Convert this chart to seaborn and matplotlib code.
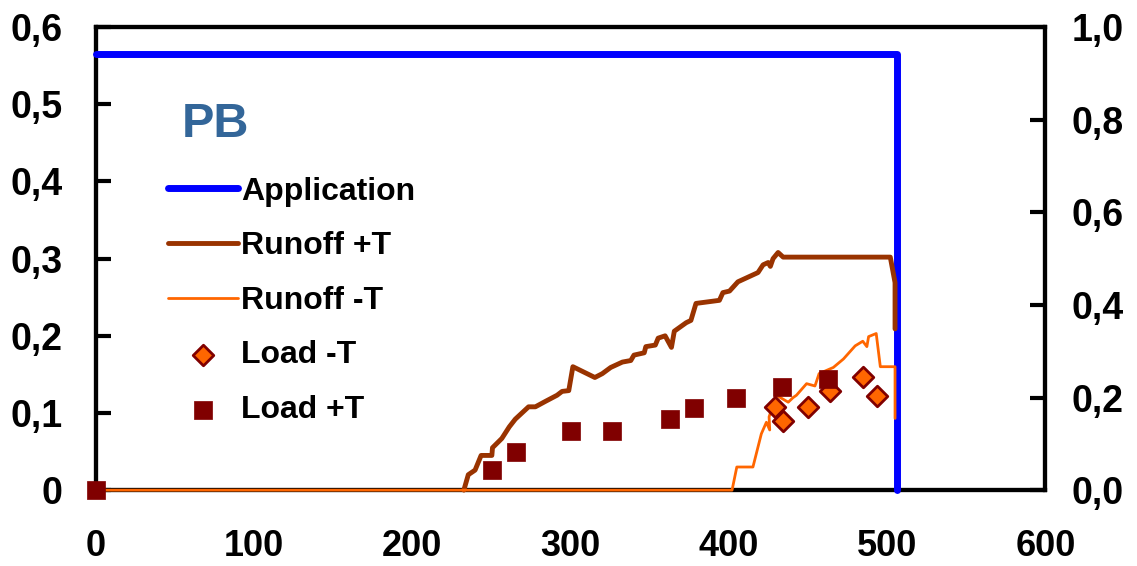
import numpy as np
import pandas as pd
import matplotlib
matplotlib.use("Agg")
import matplotlib.pyplot as plt
import seaborn as sns

# -------------------------------------------------------
# Dane
# -------------------------------------------------------
app_x = [0, 506, 506]
app_y = [0.565, 0.565, 0.0]

run_pT_x = [232.5, 235.3, 239.6, 243.4, 250.2, 250.6, 256.5, 261.2, 265.0, 273.4,
            277.7, 284.0, 291.4, 294.6, 298.8, 301.4, 315.3, 320.0, 325.3, 332.7,
            338.0, 340.0, 346.5, 347.5, 353.5, 355.3, 359.7, 363.7, 365.5, 373.0,
            376.0, 379.2, 394.0, 396.2, 400.4, 405.7, 418.4, 421.6, 424.8, 426.2,
            427.9, 431.1, 434.3, 502.0, 505.0, 505.0]
run_pT_y = [0, 0.020, 0.026, 0.045, 0.045, 0.055, 0.067, 0.082, 0.092, 0.108,
            0.108, 0.115, 0.123, 0.128, 0.129, 0.160, 0.146, 0.151, 0.159, 0.166,
            0.168, 0.175, 0.178, 0.186, 0.188, 0.197, 0.200, 0.185, 0.206, 0.217,
            0.220, 0.242, 0.246, 0.256, 0.258, 0.270, 0.282, 0.292, 0.295, 0.290,
            0.300, 0.308, 0.302, 0.302, 0.269, 0.209]

run_mT_x = [0, 402.0, 405.0, 415.2, 420.5, 423.7, 425.8, 425.4, 430.0, 437.5, 440.6,
            442.7, 449.1, 454.4, 457.0, 466.0, 472.4, 479.8, 484.6, 487.2, 488.3,
            493.1, 495.7, 505.0, 505.0]
run_mT_y = [0, 0, 0.030, 0.030, 0.073, 0.088, 0.078, 0.095, 0.123, 0.114, 0.120,
            0.123, 0.138, 0.135, 0.151, 0.159, 0.170, 0.187, 0.193, 0.186, 0.199,
            0.203, 0.160, 0.160, 0.093]

load_mT_x = [429.4, 434.3, 450.2, 463.9, 484.6, 493.5]
load_mT_y = [0.108, 0.090, 0.108, 0.128, 0.146, 0.122]

load_pT_x = [0, 250.2, 265.6, 300.5, 326.3, 362.7, 378.2, 404.2, 433.7, 462.9]
load_pT_y = [0, 0.026, 0.049, 0.077, 0.077, 0.092, 0.106, 0.120, 0.134, 0.144]

x_ticks = [0, 100, 200, 300, 400, 500, 600]
y_left_ticks = [0, 0.1, 0.2, 0.3, 0.4, 0.5, 0.6]
y_right_ticks = [0, 0.2, 0.4, 0.6, 0.8, 1.0]

# -------------------------------------------------------
# Wykres
# -------------------------------------------------------
sns.set_theme(style="white")
plt.rcParams['font.family'] = ['Liberation Sans', 'DejaVu Sans']
plt.rcParams['font.weight'] = 'bold'
plt.rcParams['text.color'] = 'black'
plt.rcParams['xtick.color'] = 'black'
plt.rcParams['ytick.color'] = 'black'
plt.rcParams['xtick.labelcolor'] = 'black'
plt.rcParams['ytick.labelcolor'] = 'black'

fig = plt.figure(figsize=(11.37, 5.66), dpi=100)
ax = fig.add_axes([0.0844, 0.134, 0.835, 0.818])
ax2 = ax.twinx()

sns.lineplot(x=app_x, y=app_y, ax=ax, sort=False, estimator=None, color='#0000FF',
             linewidth=5, label='Application', clip_on=False, zorder=3)
sns.lineplot(x=run_pT_x, y=run_pT_y, ax=ax, sort=False, estimator=None, color='#993300',
             linewidth=3.5, label='Runoff +T', clip_on=False, zorder=4)
sns.lineplot(x=run_mT_x, y=run_mT_y, ax=ax, sort=False, estimator=None, color='#FF6600',
             linewidth=2, label='Runoff -T', clip_on=False, zorder=4.5)
sns.scatterplot(x=load_mT_x, y=load_mT_y, ax=ax, marker='D', s=110, color='#FF6600',
                edgecolor='#800000', linewidth=2, label='Load -T', zorder=5, clip_on=False)
sns.scatterplot(x=load_pT_x, y=load_pT_y, ax=ax, marker='s', s=150, color='#800000',
                edgecolor='#800000', linewidth=0.5, label='Load +T', zorder=5, clip_on=False)

ax.set_xlim(0, 600)
ax.set_ylim(0, 0.6)
ax2.set_ylim(0, 1.0)

ax.set_xticks(x_ticks)
ax.set_xticklabels([str(v) for v in x_ticks])
ax.set_yticks(y_left_ticks)
ax.set_yticklabels(['0' if v == 0 else f'{v:.1f}'.replace('.', ',') for v in y_left_ticks])
ax2.set_yticks(y_right_ticks)
ax2.set_yticklabels([f'{v:.1f}'.replace('.', ',') for v in y_right_ticks])

ax.tick_params(axis='x', direction='in', length=7, width=3, pad=28, labelsize=26, color='black')
ax.tick_params(axis='y', direction='in', length=11, width=3, pad=24, labelsize=27, color='black')
ax2.tick_params(axis='y', direction='in', length=11, width=3, pad=19, labelsize=27, color='black')

for a in (ax, ax2):
    for s in a.spines.values():
        s.set_visible(True)
        s.set_linewidth(3)
        s.set_color('black')
    for lab in a.get_xticklabels() + a.get_yticklabels():
        lab.set_fontweight('bold')
        lab.set_color('black')
ax.set_xlabel('')
ax.set_ylabel('')
ax.set_zorder(ax2.get_zorder() + 1)
ax.patch.set_visible(False)

ax.text(0.090, 0.79, 'PB', transform=ax.transAxes, fontsize=35, fontweight='bold',
        color='#336699', va='center', ha='left')

leg = ax.legend(loc='upper left', bbox_to_anchor=(0.062, 0.705), frameon=False,
                fontsize=23, handlelength=2.2, handletextpad=0.1, labelspacing=0.77,
                borderaxespad=0)
for t in leg.get_texts():
    t.set_fontweight('bold')
    t.set_color('black')

plt.savefig('out.png', dpi=100)
plt.close()
